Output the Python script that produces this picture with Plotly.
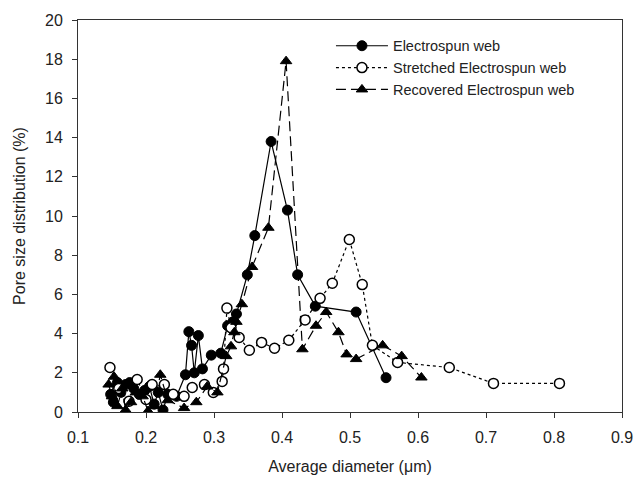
import plotly.graph_objects as go

# Electrospun web (filled circles, solid line)
es_x = [0.148, 0.152, 0.158, 0.163, 0.170, 0.176, 0.182, 0.190, 0.198, 0.205, 0.212, 0.218,
        0.225, 0.232, 0.245, 0.258, 0.263, 0.267, 0.271, 0.277, 0.283, 0.296, 0.310, 0.320,
        0.328, 0.333, 0.349, 0.360, 0.384, 0.408, 0.423, 0.449, 0.509, 0.553]
es_y = [0.9, 0.5, 1.5, 1.0, 1.4, 1.5, 1.2, 0.9, 1.1, 1.3, 0.4, 1.0,
        0.1, 0.9, 0.8, 1.9, 4.1, 3.4, 2.0, 3.9, 2.2, 2.9, 3.0, 4.4,
        4.6, 5.0, 7.0, 9.0, 13.8, 10.3, 7.0, 5.4, 5.1, 1.75]

# Stretched Electrospun web (open circles, dotted line)
st_x = [0.147, 0.160, 0.175, 0.187, 0.200, 0.209, 0.227, 0.240, 0.256, 0.268, 0.286, 0.299,
        0.312, 0.314, 0.319, 0.325, 0.337, 0.352, 0.370, 0.389, 0.410, 0.434, 0.456, 0.474,
        0.499, 0.518, 0.533, 0.570, 0.646, 0.711, 0.808]
st_y = [2.27, 1.2, 0.55, 1.66, 0.64, 1.4, 1.4, 0.9, 0.8, 1.25, 1.4, 1.0,
        1.56, 2.2, 5.3, 4.3, 3.8, 3.15, 3.55, 3.25, 3.66, 4.7, 5.8, 6.57,
        8.8, 6.5, 3.4, 2.53, 2.27, 1.46, 1.46]

# Recovered Electrospun web (filled triangles, dashed line)
rc_x = [0.145, 0.150, 0.153, 0.158, 0.165, 0.170, 0.178, 0.185, 0.195, 0.203, 0.212, 0.221,
        0.232, 0.256, 0.274, 0.290, 0.305, 0.318, 0.325, 0.330, 0.333, 0.341, 0.356, 0.380,
        0.406, 0.430, 0.450, 0.465, 0.483, 0.495, 0.509, 0.548, 0.576, 0.605]
rc_y = [1.4, 0.8, 1.8, 0.3, 1.2, 0.1, 0.5, 1.0, 0.8, 0.05, 0.3, 1.9,
        0.6, 0.2, 0.5, 1.3, 1.0, 2.85, 3.35, 4.07, 4.6, 5.5, 7.4, 9.4,
        17.9, 3.2, 4.4, 5.1, 4.07, 2.94, 2.7, 3.4, 2.85, 1.76]

x_ticks = [0.1, 0.2, 0.3, 0.4, 0.5, 0.6, 0.7, 0.8, 0.9]
y_ticks = [0, 2, 4, 6, 8, 10, 12, 14, 16, 18, 20]

FONT = "Arial, Liberation Sans, sans-serif"

fig = go.Figure()
fig.add_trace(go.Scatter(
    x=es_x, y=es_y, mode="lines+markers", name="Electrospun web",
    line=dict(color="black", width=1.2, dash="solid"),
    marker=dict(symbol="circle", size=10, color="black", line=dict(color="black", width=1)),
))
fig.add_trace(go.Scatter(
    x=st_x, y=st_y, mode="lines+markers", name="Stretched Electrospun web",
    line=dict(color="black", width=1.2, dash="dot"),
    marker=dict(symbol="circle", size=10, color="white", line=dict(color="black", width=1.5)),
))
fig.add_trace(go.Scatter(
    x=rc_x, y=rc_y, mode="lines+markers", name="Recovered Electrospun web",
    line=dict(color="black", width=1.2, dash="10px,5px"),
    marker=dict(symbol="triangle-up", size=10, color="black", line=dict(color="black", width=1)),
))

fig.update_layout(
    width=638, height=482,
    margin=dict(l=78, r=16, t=20, b=70),
    paper_bgcolor="white", plot_bgcolor="white",
    font=dict(family=FONT, color="#222", size=16),
    showlegend=True,
    legend=dict(x=0.465, y=0.975, xanchor="left", yanchor="top",
                bgcolor="rgba(0,0,0,0)", font=dict(size=14.5, family=FONT),
                tracegroupgap=0, itemwidth=52),
    xaxis=dict(range=[0.1, 0.9], tickvals=x_ticks, ticktext=[f"{v:.1f}" for v in x_ticks],
               showgrid=False, zeroline=False, showline=True, linecolor="#333", linewidth=1,
               mirror=True, ticks="outside", ticklen=5, tickcolor="#333",
               ticklabelstandoff=6, automargin=False,
               title=dict(text="Average diameter (\u03bcm)", font=dict(size=16)),
               tickfont=dict(size=16)),
    yaxis=dict(range=[0, 20], tickvals=y_ticks,
               showgrid=False, zeroline=False, showline=True, linecolor="#333", linewidth=1,
               mirror=True, ticks="outside", ticklen=5, tickcolor="#333",
               ticklabelstandoff=6, automargin=False,
               title=dict(text="Pore size distribution (%)", font=dict(size=16)),
               tickfont=dict(size=16)),
)

fig.write_html("out.html")
